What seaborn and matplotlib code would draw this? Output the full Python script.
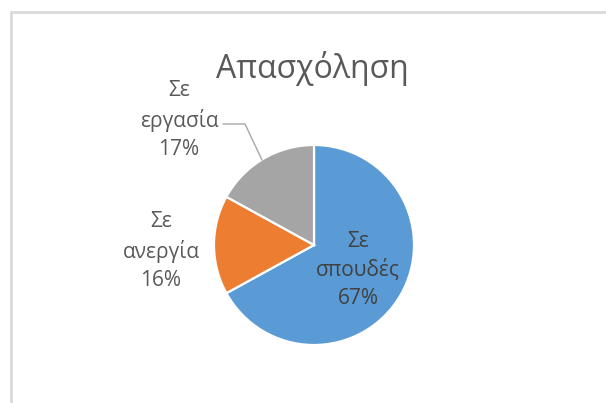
import matplotlib
matplotlib.use("Agg")
import matplotlib.pyplot as plt
import seaborn as sns
from matplotlib.lines import Line2D

# Data
categories = ["Σε\nσπουδές", "Σε\nανεργία", "Σε\nεργασία"]
values = [67, 16, 17]
title = "Απασχόληση"

sns.set_theme(style="white")
plt.rcParams["font.family"] = ["Open Sans", "DejaVu Sans"]

colors = sns.color_palette(["#5B9BD5", "#ED7D31", "#A5A5A5"])

W, H = 606, 403
fig = plt.figure(figsize=(W / 100, H / 100), dpi=100)
fig.patch.set_facecolor("white")

# Axes covering the whole figure: one data unit = 100 px, pie centre at (314, 245) px
cx, cy, unit = 314, 245, 100
ax = fig.add_axes([0, 0, 1, 1])
ax.pie(values, colors=colors, startangle=90, counterclock=False, radius=1,
       wedgeprops=dict(edgecolor="white", linewidth=1.6))
ax.set_xlim(-cx / unit, (W - cx) / unit)
ax.set_ylim(-(H - cy) / unit, cy / unit)
ax.set_aspect("auto")
ax.axis("off")

def to_data(px, py):
    return (px - cx) / unit, (cy - py) / unit

total = sum(values)
label_pos = [(358, 270), (161, 251), (179, 120)]
text_color = "#595959"
for cat, val, (px, py) in zip(categories, values, label_pos):
    x, y = to_data(px, py)
    ax.text(x, y, f"{cat}\n{round(100 * val / total)}%", ha="center", va="center",
            fontsize=15, color="#404040" if px > 300 else text_color,
            linespacing=1.45, clip_on=False)

# Leader line for the outer label of the grey slice
lx = [to_data(p, q)[0] for p, q in [(223, 124), (245, 124), (262, 160)]]
ly = [to_data(p, q)[1] for p, q in [(223, 124), (245, 124), (262, 160)]]
ax.plot(lx, ly, color="#A6A6A6", linewidth=1.0, clip_on=False)

tx, ty = to_data(312, 78)
ax.text(tx, ty, title, ha="center", va="baseline", fontsize=23, color=text_color)

# Chart area border (top and left edges)
fig.add_artist(Line2D([11 / W, 11 / W], [0, 1 - 12 / H], color="#D9D9D9", linewidth=2))
fig.add_artist(Line2D([11 / W, 1], [1 - 12 / H, 1 - 12 / H], color="#D9D9D9", linewidth=2))

fig.savefig("out.png", dpi=100)
